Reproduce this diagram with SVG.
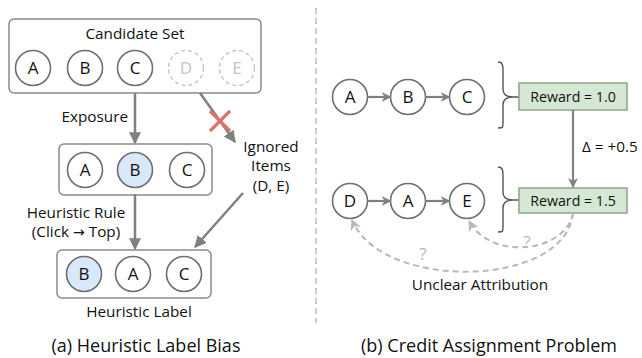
<svg xmlns="http://www.w3.org/2000/svg" width="642" height="358" viewBox="0 0 642 358">
<defs>
<style>
text{font-family:"Open Sans","Noto Sans","Liberation Sans",sans-serif;fill:#111;}
.lbl{font-size:15.3px;}
.cap{font-size:18px;}
.nd{font-size:17px;text-anchor:middle;}
.box{fill:#fff;stroke:#8a8a8a;stroke-width:1.5;}
.c{fill:#fff;stroke:#6e6e6e;stroke-width:1.6;}
.cb{fill:#dae8fc;stroke:#6e6e6e;stroke-width:1.6;}
.cg{fill:#fff;stroke:#c4c4c4;stroke-width:1.4;stroke-dasharray:4 3;}
.tg{fill:#c4c4c4;}
.q{font-size:17px;fill:#b8b8b8;text-anchor:middle;}
.arr{fill:none;stroke:#808080;stroke-width:2.5;}
.sarr{fill:none;stroke:#808080;stroke-width:2.2;}
.dash{fill:none;stroke:#b8b8b8;stroke-width:2;stroke-dasharray:6 4;}
.rw{fill:#d5e8d4;stroke:#8fa38d;stroke-width:1.5;}
.brace{fill:none;stroke:#555;stroke-width:1.4;}
</style>
<marker id="ah" viewBox="0 0 10 10" refX="9" refY="5" markerWidth="12" markerHeight="12" markerUnits="userSpaceOnUse" orient="auto">
<path d="M0,0 L10,5 L0,10 z" fill="#808080"/>
</marker>
<marker id="ahs" viewBox="0 0 10 10" refX="9" refY="5" markerWidth="10" markerHeight="10" markerUnits="userSpaceOnUse" orient="auto">
<path d="M0,0 L10,5 L0,10 L3,5 z" fill="#808080"/>
</marker>
<marker id="ahd" viewBox="0 0 10 10" refX="9" refY="5" markerWidth="11" markerHeight="11" markerUnits="userSpaceOnUse" orient="auto">
<path d="M0,0 L10,5 L0,10 L3,5 z" fill="#b8b8b8"/>
</marker>
</defs>
<rect width="642" height="358" fill="#fff"/>

<!-- divider -->
<line x1="316" y1="8" x2="316" y2="323" stroke="#aaaaaa" stroke-width="1.2" stroke-dasharray="6 4"/>

<!-- (a) panel -->
<g id="candidate-set">
<rect class="box" x="9" y="19" width="252" height="74" rx="5"/>
<text class="lbl" x="135" y="39" text-anchor="middle">Candidate Set</text>
<circle class="c" cx="33" cy="68" r="17.5"/><text class="nd" x="33" y="74">A</text>
<circle class="c" cx="85" cy="68" r="17.5"/><text class="nd" x="85" y="74">B</text>
<circle class="c" cx="135" cy="68" r="17.5"/><text class="nd" x="135" y="74">C</text>
<circle class="cg" cx="186" cy="68" r="17.5"/><text class="nd tg" x="186" y="74">D</text>
<circle class="cg" cx="237" cy="68" r="17.5"/><text class="nd tg" x="237" y="74">E</text>
</g>

<g id="exposed">
<rect class="box" x="59" y="144" width="153" height="51" rx="5"/>
<circle class="c" cx="85" cy="170" r="17.5"/><text class="nd" x="85" y="176">A</text>
<circle class="cb" cx="135" cy="170" r="17.5"/><text class="nd" x="135" y="176">B</text>
<circle class="c" cx="187" cy="170" r="17.5"/><text class="nd" x="187" y="176">C</text>
</g>

<g id="ignored">
<text class="lbl" x="271" y="152" text-anchor="middle">Ignored</text>
<text class="lbl" x="271" y="171" text-anchor="middle">Items</text>
<text class="lbl" x="271" y="191" text-anchor="middle">(D, E)</text>
</g>

<g id="heuristic-label">
<rect class="box" x="57" y="250" width="154" height="48" rx="5"/>
<circle class="cb" cx="84" cy="274" r="17.5"/><text class="nd" x="84" y="280">B</text>
<circle class="c" cx="133" cy="274" r="17.5"/><text class="nd" x="133" y="280">A</text>
<circle class="c" cx="184" cy="274" r="17.5"/><text class="nd" x="184" y="280">C</text>
<text class="lbl" x="139" y="317" text-anchor="middle">Heuristic Label</text>
</g>

<g id="connectors-a">
<line class="arr" x1="135" y1="93" x2="135" y2="143" marker-end="url(#ah)"/>
<text class="lbl" x="128" y="122" text-anchor="end">Exposure</text>
<line class="arr" x1="200" y1="93" x2="235" y2="142" marker-end="url(#ah)"/>
<g stroke="#d9736b" stroke-width="3.2">
<line x1="210" y1="111" x2="230" y2="131"/>
<line x1="230" y1="111" x2="210" y2="131"/>
</g>
<line class="arr" x1="135" y1="194" x2="135" y2="249" marker-end="url(#ah)"/>
<text class="lbl" x="76" y="218" text-anchor="middle">Heuristic Rule</text>
<text class="lbl" x="76" y="237" text-anchor="middle">(Click <tspan style="font-family:'DejaVu Sans',sans-serif;font-size:14px">→</tspan> Top)</text>
<line class="arr" x1="243" y1="193" x2="195" y2="247" marker-end="url(#ah)"/>
</g>

<text class="cap" x="146" y="352" text-anchor="middle">(a) Heuristic Label Bias</text>

<!-- (b) panel -->
<g id="seq1">
<circle class="c" cx="350" cy="97" r="17.5"/><text class="nd" x="350" y="103">A</text>
<circle class="c" cx="408" cy="97" r="17.5"/><text class="nd" x="408" y="103">B</text>
<circle class="c" cx="467" cy="97" r="17.5"/><text class="nd" x="467" y="103">C</text>
<path class="brace" d="M498,62 C503,62 503,66 503,72 L503,89 C503,94 506,97 513,97 C506,97 503,100 503,105 L503,122 C503,128 503,128 498,128 M513,97 L519,97"/>
</g>
<g id="reward1">
<rect class="rw" x="519" y="83" width="108" height="27"/>
<text class="lbl" x="573" y="102" text-anchor="middle" style="font-size:14.2px">Reward = 1.0</text>
</g>

<g id="seq2">
<circle class="c" cx="350" cy="201" r="17.5"/><text class="nd" x="350" y="207">D</text>
<circle class="c" cx="408" cy="201" r="17.5"/><text class="nd" x="408" y="207">A</text>
<circle class="c" cx="467" cy="201" r="17.5"/><text class="nd" x="467" y="207">E</text>
<path class="brace" d="M498,167 C503,167 503,171 503,177 L503,192 C503,197 506,200 513,200 C506,200 503,203 503,208 L503,226 C503,232 503,232 498,232 M513,200 L519,200"/>
</g>
<g id="reward2">
<rect class="rw" x="519" y="188" width="108" height="25"/>
<text class="lbl" x="573" y="206" text-anchor="middle" style="font-size:14.2px">Reward = 1.5</text>
</g>

<g id="connectors-b">
<line class="sarr" x1="367.5" y1="97" x2="390.5" y2="97" marker-end="url(#ahs)"/>
<line class="sarr" x1="425.5" y1="97" x2="449.5" y2="97" marker-end="url(#ahs)"/>
<line class="sarr" x1="367.5" y1="201" x2="390.5" y2="201" marker-end="url(#ahs)"/>
<line class="sarr" x1="425.5" y1="201" x2="449.5" y2="201" marker-end="url(#ahs)"/>
<line class="sarr" x1="573" y1="110" x2="573" y2="187" marker-end="url(#ahs)"/>
<text class="lbl" x="582" y="152">Δ = +0.5</text>
<path class="dash" d="M573,213 C566,288 382,292 352,220" marker-end="url(#ahd)"/>
<path class="dash" d="M573,213 C566,252 492,262 469,221" marker-end="url(#ahd)"/>
<text class="q" x="423" y="260">?</text>
<text class="q" x="527" y="248">?</text>
</g>
<text class="lbl" x="480" y="290" text-anchor="middle">Unclear Attribution</text>

<text class="cap" x="489" y="352" text-anchor="middle">(b) Credit Assignment Problem</text>
</svg>
